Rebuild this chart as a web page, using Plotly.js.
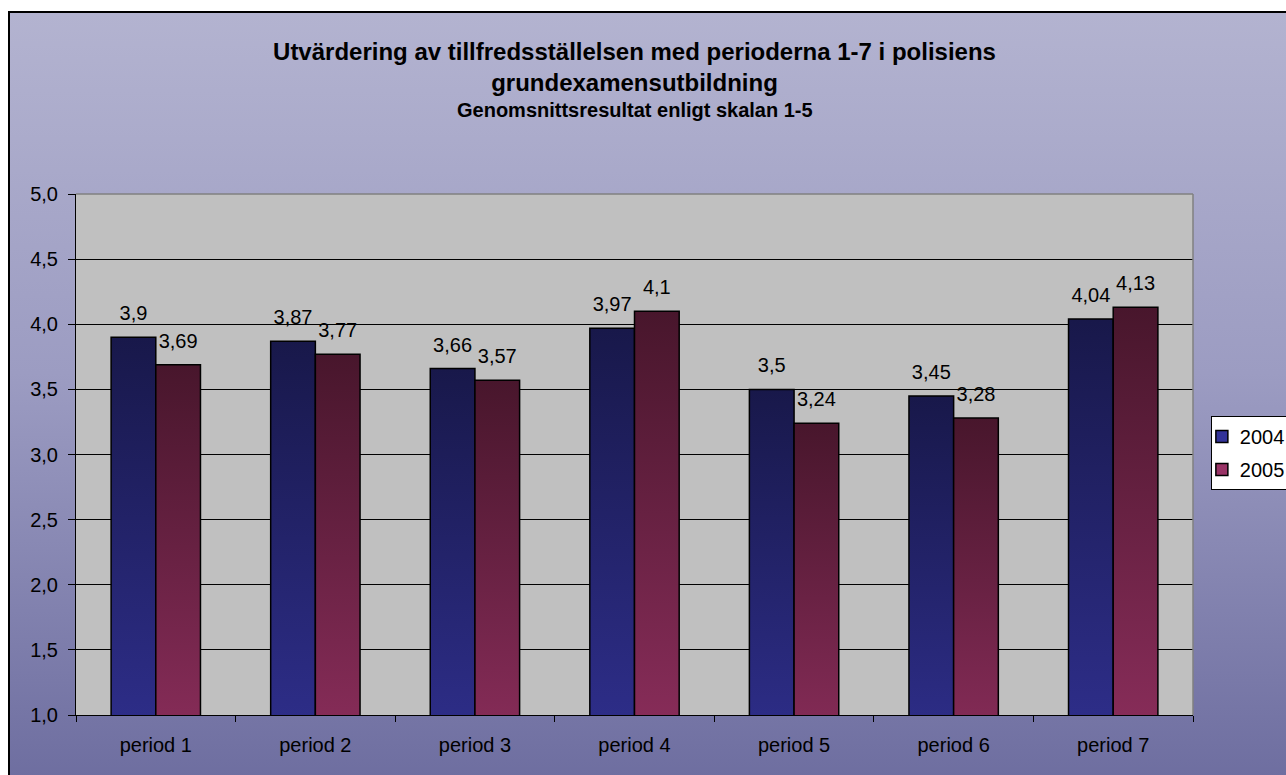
<!DOCTYPE html>
<html>
<head>
<meta charset="utf-8">
<script src="https://cdn.plot.ly/plotly-3.0.1.min.js"></script>
<style>
  html, body { margin: 0; padding: 0; background: #fff; overflow: hidden; }
  #frame {
    position: absolute; left: 8px; top: 11px; width: 1300px; height: 800px;
    border: 2px solid #000;
    background: linear-gradient(to bottom, #b3b3d0 0%, #9c9cc2 45%, #6a6a9d 100%);
  }
  #plotdiv { position: absolute; left: 0; top: 0; width: 1286px; height: 775px; }
</style>
</head>
<body>
<div id="frame"></div>
<div id="plotdiv"></div>
<script>
var periods = ['period 1','period 2','period 3','period 4','period 5','period 6','period 7'];
var values2004 = [3.9, 3.87, 3.66, 3.97, 3.5, 3.45, 4.04];
var values2005 = [3.69, 3.77, 3.57, 4.1, 3.24, 3.28, 4.13];
var labels2004 = ['3,9','3,87','3,66','3,97','3,5','3,45','4,04'];
var labels2005 = ['3,69','3,77','3,57','4,1','3,24','3,28','4,13'];

var font = 'Liberation Sans, Arial, sans-serif';

var trace2004 = {
  x: periods,
  y: values2004,
  text: labels2004,
  name: '2004',
  legendgroup: 'g2004',
  type: 'bar',
  textposition: 'outside',
  cliponaxis: false,
  textfont: {family: font, size: 20, color: '#000'},
  marker: {color: '#333399', line: {color: '#000', width: 1.5}}
};

var trace2005 = {
  x: periods,
  y: values2005,
  text: labels2005,
  name: '2005',
  legendgroup: 'g2005',
  type: 'bar',
  textposition: 'outside',
  cliponaxis: false,
  textfont: {family: font, size: 20, color: '#000'},
  marker: {color: '#993366', line: {color: '#000', width: 1.5}}
};

var data = [trace2004, trace2005];

var layout = {
  width: 1286,
  height: 775,
  paper_bgcolor: 'rgba(0,0,0,0)',
  plot_bgcolor: '#c0c0c0',
  margin: {l: 76, r: 93, t: 194, b: 60, autoexpand: false},
  separators: ',.',
  barmode: 'group',
  bargap: 0.44,
  bargroupgap: 0,
  font: {family: font, size: 20, color: '#000'},
  title: {
    text: '<b>Utvärdering av tillfredsställelsen med perioderna 1-7 i polisiens<br>grundexamensutbildning</b>',
    font: {family: font, size: 24, color: '#000'},
    x: 0.5,
    xref: 'paper',
    y: 0.9226,
    yanchor: 'top'
  },
  annotations: [
    {text: '<b>Genomsnittsresultat enligt skalan 1-5</b>', xref: 'paper', yref: 'paper',
     x: 0.5, y: 1.162, xanchor: 'center', yanchor: 'middle', showarrow: false,
     font: {family: font, size: 20, color: '#000'}}
  ],
  xaxis: {
    type: 'category',
    tickson: 'boundaries',
    ticks: 'outside',
    ticklen: 6,
    tickcolor: '#000',
    ticklabelstandoff: 12,
    showline: true,
    linecolor: '#000',
    linewidth: 1,
    showgrid: false,
    tickfont: {family: font, size: 20, color: '#000'}
  },
  yaxis: {
    range: [1, 5],
    dtick: 0.5,
    tickformat: '.1f',
    ticks: 'outside',
    ticklen: 7,
    tickcolor: '#000',
    ticklabelstandoff: 6,
    showline: true,
    linecolor: '#000',
    linewidth: 1,
    showgrid: true,
    gridcolor: '#000',
    gridwidth: 1,
    zeroline: false,
    tickfont: {family: font, size: 20, color: '#000'}
  },
  showlegend: true,
  legend: {
    x: 1.016,
    xanchor: 'left',
    y: 0.503,
    yanchor: 'middle',
    bgcolor: '#fff',
    bordercolor: '#000',
    borderwidth: 1,
    traceorder: 'grouped',
    tracegroupgap: 4,
    font: {family: font, size: 20, color: '#000'},
    itemwidth: 30
  },
  shapes: [
    {type: 'line', xref: 'paper', yref: 'paper', x0: 0, x1: 1, y0: 1, y1: 1,
     line: {color: '#808080', width: 1.5}},
    {type: 'line', xref: 'paper', yref: 'paper', x0: 1, x1: 1, y0: 0, y1: 1,
     line: {color: '#808080', width: 1.5}}
  ]
};

var gradients = [
  {id: 'grad2004', top: '#18184a', bottom: '#34349c'},
  {id: 'grad2005', top: '#48162c', bottom: '#9a3366'}
];

function applyGradients(){
  var gd = document.getElementById('plotdiv');
  var svg = gd.querySelector('.main-svg');
  if(!svg) return;
  var ns = 'http://www.w3.org/2000/svg';
  var defs = svg.querySelector('defs');
  if(!defs){
    defs = document.createElementNS(ns, 'defs');
    svg.insertBefore(defs, svg.firstChild);
  }
  gradients.forEach(function(g){
    if(defs.querySelector('#' + g.id)) return;
    var lg = document.createElementNS(ns, 'linearGradient');
    lg.setAttribute('id', g.id);
    lg.setAttribute('x1', '0'); lg.setAttribute('y1', '0');
    lg.setAttribute('x2', '0'); lg.setAttribute('y2', '1');
    var s1 = document.createElementNS(ns, 'stop');
    s1.setAttribute('offset', '0'); s1.setAttribute('stop-color', g.top);
    var s2 = document.createElementNS(ns, 'stop');
    s2.setAttribute('offset', '1'); s2.setAttribute('stop-color', g.bottom);
    lg.appendChild(s1); lg.appendChild(s2);
    defs.appendChild(lg);
  });
  var traces = gd.querySelectorAll('.barlayer .trace.bars');
  traces.forEach(function(t, i){
    t.querySelectorAll('path').forEach(function(p){
      p.style.fill = 'url(#' + gradients[i].id + ')';
    });
    // lift the value labels a little, like the original
    t.querySelectorAll('text.bartext').forEach(function(tx){
      var cur = tx.getAttribute('transform') || '';
      if(tx.dataset.mine === cur) return;
      var mine = 'translate(0,-10) ' + cur;
      tx.setAttribute('transform', mine);
      tx.dataset.mine = mine;
    });
  });
  // pull legend entries closer to the left border of the box
  gd.querySelectorAll('.legend .traces').forEach(function(it){
    var pts = it.querySelector('.legendpoints');
    if(pts && !pts.dataset.moved){
      pts.setAttribute('transform', 'translate(-10,0)');
      pts.dataset.moved = '1';
    }
    var tx = it.querySelector('.legendtext');
    if(tx && !tx.dataset.moved){
      tx.setAttribute('x', parseFloat(tx.getAttribute('x') || 0) - 12);
      tx.dataset.moved = '1';
    }
  });
}

Plotly.newPlot('plotdiv', data, layout, {displayModeBar: false}).then(function(gd){
  applyGradients();
  gd.on('plotly_afterplot', applyGradients);
});
</script>
</body>
</html>
